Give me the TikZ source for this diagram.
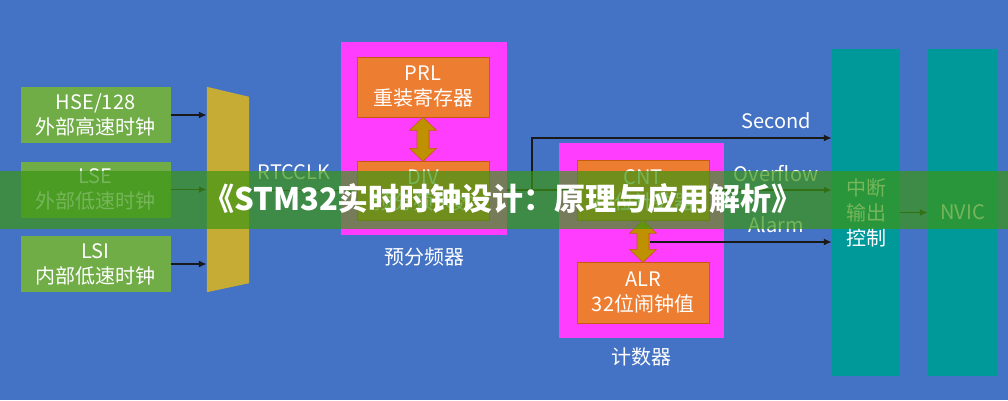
\documentclass[tikz,border=0pt]{standalone}
\usepackage{fontspec}
\setmainfont{Noto Sans CJK SC}
\usetikzlibrary{arrows.meta}

\definecolor{bgblue}{HTML}{4472C4}
\definecolor{srcgreen}{HTML}{70AD47}
\definecolor{muxgold}{RGB}{198,172,52}
\definecolor{grpmagenta}{RGB}{255,61,255}
\definecolor{regorange}{HTML}{ED7D31}
\definecolor{regedge}{HTML}{C55A11}
\definecolor{dblgold}{HTML}{BF9000}
\definecolor{colteal}{RGB}{0,153,153}
\definecolor{bannergreen}{RGB}{60,150,20}

\begin{document}
\begin{tikzpicture}[x=1pt,y=-1pt,
	font=\fontsize{20}{25}\selectfont,
	src/.style={fill=srcgreen, text=white, minimum width=150pt, minimum height=56pt, inner sep=0pt, align=center},
	reg/.style={fill=regorange, draw=regedge, line width=0.6pt, text=white, minimum width=132pt, inner sep=0pt, align=center},
	grp/.style={fill=grpmagenta, inner sep=0pt},
	col/.style={fill=colteal, text=white, minimum width=68pt, minimum height=327pt, inner sep=0pt, align=center},
	sig/.style={line width=1.8pt, black!90, -{Latex[length=8pt,width=7pt]}},
	lbl/.style={text=white},
	dbl/.style={fill=dblgold, draw=regedge, line width=0.6pt}]

	\fill[bgblue] (0,0) rectangle (1008,400);

	\node[src] (hse) at (95.5,115) {HSE/128\\外部高速时钟};
	\node[src] (lse) at (95.5,189.5) {LSE\\外部低速时钟};
	\node[src] (lsi) at (95.5,264) {LSI\\内部低速时钟};

	\node[minimum width=42pt, minimum height=205pt, inner sep=0pt] (mux) at (228,189.5) {};
	\fill[muxgold] (mux.north west) -- ([yshift=-10pt]mux.north east) -- ([yshift=9pt]mux.south east) -- (mux.south west) -- cycle;

	\node[grp, minimum width=166pt, minimum height=193pt] (pre) at (424,138.5) {};
	\node[reg, minimum height=60pt] (prl) at (423,87) {PRL\\重装寄存器};
	\node[reg, minimum height=59pt] (div) at (423,190.5) {DIV\\预分频系数};
	\filldraw[dbl] (prl.south) -- ++(13.5,13) -- ++(-7.5,0) -- ++(0,18) -- ++(7.5,0) -- ++(-13.5,13)
		-- ++(-13.5,-13) -- ++(7.5,0) -- ++(0,-18) -- ++(-7.5,0) -- cycle;
	\node[lbl] (prelbl) at (424,257) {预分频器};

	\node[grp, minimum width=165pt, minimum height=195pt] (cntgrp) at (641.5,240.5) {};
	\node[reg, minimum height=60pt] (cnt) at (643,190) {CNT\\32位计数器};
	\node[reg, minimum height=61pt] (alr) at (643,292.5) {ALR\\32位闹钟值};
	\filldraw[dbl] (cnt.south) -- ++(13.5,13) -- ++(-7.5,0) -- ++(0,16) -- ++(7.5,0) -- ++(-13.5,13)
		-- ++(-13.5,-13) -- ++(7.5,0) -- ++(0,-16) -- ++(-7.5,0) -- cycle;
	\node[lbl] (cntlbl) at (641,357) {计数器};

	\node[col] (ctrl) at (866,212.5) {中断\\输出\\控制};
	\node[col, minimum width=69pt] (nvic) at (962.5,212.5) {NVIC};

	\draw[sig] (hse.east) -- (hse.east -| mux.west);
	\draw[sig] (lse.east) -- (lse.east -| mux.west);
	\draw[sig] (lsi.east) -- (lsi.east -| mux.west);
	\draw[sig] (mux.east |- div.west) -- (div.west);
	\node[lbl] (rtcclk) at (294,172) {RTCCLK};

	\coordinate (split) at (532,190);
	\coordinate (sectop) at (532,138);
	\coordinate (alm) at (650,242);
	\draw[sig] (pre.east |- cnt.west) -- (cnt.west);
	\draw[sig] (split) -- (sectop) -- (sectop -| ctrl.west);
	\draw[sig] (cnt.east) -- (cnt.east -| ctrl.west);
	\draw[sig] (alm) -- (alm -| ctrl.west);
	\draw[sig] (ctrl.east) -- (nvic.west);
	\node[lbl] (second) at (776,121) {Second};
	\node[lbl] (overflow) at (776,174) {Overflow};
	\node[lbl] (alarm) at (776,225) {Alarm};

	\fill[bannergreen, opacity=0.7] (0,171) rectangle (1008,229);
	\node[text=white, font=\fontsize{31}{33}\selectfont\bfseries] (title) at (503,199) {《STM32实时时钟设计：原理与应用解析》};
\end{tikzpicture}
\end{document}
